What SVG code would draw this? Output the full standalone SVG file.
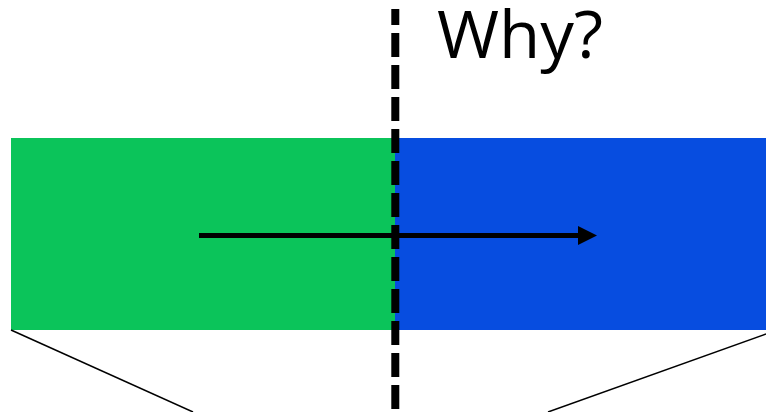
<svg xmlns="http://www.w3.org/2000/svg" width="766" height="412" viewBox="0 0 766 412">
<style>
.thin{stroke:#000;stroke-width:1.5;fill:none}
.lbl{font-family:"Open Sans","Liberation Sans",sans-serif;font-size:66px;fill:#000}
</style>
<defs>
<marker id="ah" markerWidth="19" markerHeight="20" refX="1" refY="10" orient="auto" markerUnits="userSpaceOnUse">
<path d="M0,0.5 L19,10 L0,19.5 Z" fill="#000"/>
</marker>
</defs>
<rect width="766" height="412" fill="#fff"/>
<g id="green-block"><rect x="11" y="138" width="384" height="192" fill="#0bc45a"/></g>
<g id="blue-block"><rect x="395" y="138" width="371" height="192" fill="#074de0"/></g>
<g id="why-label"><text class="lbl" x="437" y="58" textLength="166" lengthAdjust="spacingAndGlyphs">Why?</text></g>
<g id="connectors">
<line class="thin" x1="11" y1="330" x2="193" y2="412"/>
<line class="thin" x1="766" y1="334" x2="548" y2="412"/>
<line x1="199" y1="235.5" x2="579" y2="235.5" stroke="#000" stroke-width="5" marker-end="url(#ah)"/>
<line x1="395.3" y1="9" x2="395.3" y2="412" stroke="#000" stroke-width="8" stroke-dasharray="24 8" stroke-dashoffset="8"/>
</g>
</svg>
